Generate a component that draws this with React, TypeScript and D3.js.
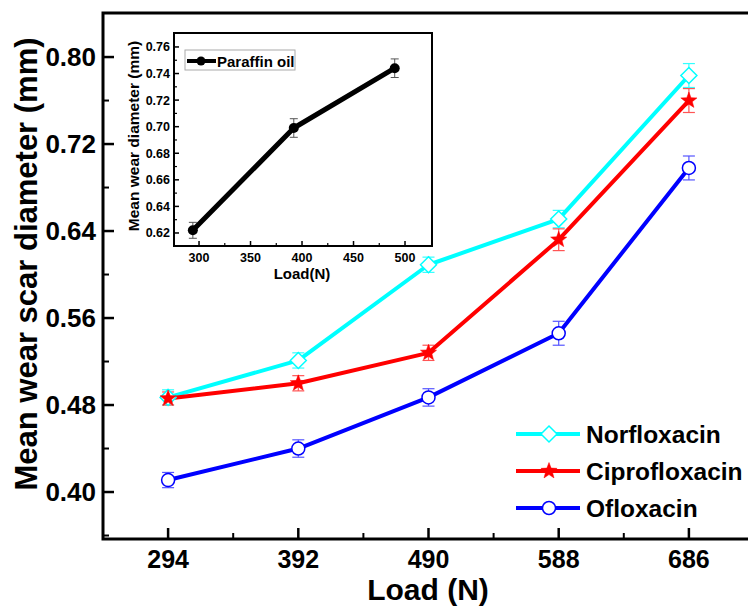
import React from "react";
import * as d3 from "d3";

const loads = [294, 392, 490, 588, 686];
const norfloxacin = [0.487, 0.521, 0.609, 0.651, 0.783];
const norfloxacinErr = [0.007, 0.007, 0.007, 0.008, 0.011];
const ciprofloxacin = [0.486, 0.5, 0.528, 0.632, 0.76];
const ciprofloxacinErr = [0.006, 0.007, 0.007, 0.01, 0.011];
const ofloxacin = [0.411, 0.44, 0.487, 0.546, 0.698];
const ofloxacinErr = [0.007, 0.008, 0.008, 0.011, 0.011];
const yTicks = [0.4, 0.48, 0.56, 0.64, 0.72, 0.8];

const insetLoads = [294, 392, 490];
const paraffin = [0.622, 0.699, 0.744];
const paraffinErr = [0.006, 0.007, 0.007];
const insetXTicks = [300, 350, 400, 450, 500];
const insetYTicks = [0.62, 0.64, 0.66, 0.68, 0.7, 0.72, 0.74, 0.76];

const FONT = "'Liberation Sans', Arial, Helvetica, sans-serif";

function starPath(cx: number, cy: number, R: number, r: number) {
  const pts: string[] = [];
  for (let i = 0; i < 10; i++) {
    const a = -Math.PI / 2 + (i * Math.PI) / 5;
    const rad = i % 2 === 0 ? R : r;
    pts.push(`${cx + rad * Math.cos(a)},${cy + rad * Math.sin(a)}`);
  }
  return "M" + pts.join("L") + "Z";
}

function Marker({ kind, x, y, color }: { kind: string; x: number; y: number; color: string }) {
  if (kind === "diamond") {
    const s = 8;
    return (
      <path
        d={`M${x},${y - s}L${x + s},${y}L${x},${y + s}L${x - s},${y}Z`}
        fill="white"
        stroke={color}
        strokeWidth={1.5}
      />
    );
  }
  if (kind === "star") {
    return <path d={starPath(x, y, 8.5, 3.6)} fill={color} stroke={color} strokeWidth={0.5} />;
  }
  return <circle cx={x} cy={y} r={6.5} fill="white" stroke={color} strokeWidth={1.5} />;
}

export default function App() {
  const x = d3.scaleLinear().domain([245, 735]).range([103, 754]);
  const y = d3.scaleLinear().domain([0.3568, 0.8405]).range([539, 13]);

  const series = [
    { name: "Norfloxacin", values: norfloxacin, err: norfloxacinErr, color: "#00FFFF", errColor: "#33FFFF", kind: "diamond" },
    { name: "Ciprofloxacin", values: ciprofloxacin, err: ciprofloxacinErr, color: "#FF0000", errColor: "#FF5555", kind: "star" },
    { name: "Ofloxacin", values: ofloxacin, err: ofloxacinErr, color: "#0000FF", errColor: "#5555FF", kind: "circle" },
  ];

  const line = d3
    .line<number>()
    .x((_, i) => x(loads[i]))
    .y((d) => y(d));

  const xMinor = loads.slice(0, -1).map((v, i) => (v + loads[i + 1]) / 2);
  const yMinor = [0.36, ...yTicks.map((v) => v + 0.04)].filter((v) => v < 0.84);

  // inset scales
  const ix = d3.scaleLinear().domain([275.7, 526.2]).range([174, 432]);
  const iy = d3.scaleLinear().domain([0.6102, 0.7705]).range([246, 33]);
  const iline = d3
    .line<number>()
    .x((_, i) => ix(insetLoads[i]))
    .y((d) => iy(d));
  const ixMinor = [325, 375, 425, 475];
  const iyMinor = [0.63, 0.65, 0.67, 0.69, 0.71, 0.73, 0.75];

  const legendYs = [434, 471, 508];

  return (
    <svg
      width={748}
      height={607}
      style={{ position: "absolute", left: 0, top: 0, background: "white" }}
      fontFamily={FONT}
    >
      <rect x={0} y={0} width={748} height={607} fill="white" />

      {/* main frame */}
      <rect x={103} y={13} width={660} height={526} fill="none" stroke="black" strokeWidth={3} />

      {/* x ticks */}
      {loads.map((v) => (
        <g key={"xt" + v}>
          <line x1={x(v)} x2={x(v)} y1={539} y2={528} stroke="black" strokeWidth={2.5} />
          <text x={x(v)} y={568} textAnchor="middle" fontSize={25} fontWeight="bold">
            {v}
          </text>
        </g>
      ))}
      {xMinor.map((v) => (
        <line key={"xm" + v} x1={x(v)} x2={x(v)} y1={539} y2={533} stroke="black" strokeWidth={2} />
      ))}

      {/* y ticks */}
      {yTicks.map((v) => (
        <g key={"yt" + v}>
          <line x1={103} x2={114} y1={y(v)} y2={y(v)} stroke="black" strokeWidth={2.5} />
          <text x={96} y={y(v) + 9} textAnchor="end" fontSize={26} fontWeight="bold">
            {v.toFixed(2)}
          </text>
        </g>
      ))}
      {yMinor.map((v) => (
        <line key={"ym" + v} x1={103} x2={109} y1={y(v)} y2={y(v)} stroke="black" strokeWidth={2} />
      ))}

      {/* axis titles */}
      <text x={428} y={600} textAnchor="middle" fontSize={30} fontWeight="bold">
        Load (N)
      </text>
      <text
        transform={`translate(37,264) rotate(-90)`}
        textAnchor="middle"
        fontSize={31}
        fontWeight="bold"
      >
        Mean wear scar diameter (mm)
      </text>

      {/* series */}
      {series.map((s) => (
        <g key={s.name}>
          {s.values.map((v, i) => {
            const cx = x(loads[i]);
            const top = y(v + s.err[i]);
            const bot = y(v - s.err[i]);
            return (
              <g key={i} stroke={s.errColor} strokeWidth={1.2}>
                <line x1={cx} x2={cx} y1={top} y2={bot} />
                <line x1={cx - 6} x2={cx + 6} y1={top} y2={top} />
                <line x1={cx - 6} x2={cx + 6} y1={bot} y2={bot} />
              </g>
            );
          })}
          <path d={line(s.values) || ""} fill="none" stroke={s.color} strokeWidth={4} strokeLinejoin="round" />
        </g>
      ))}
      {series.map((s) => (
        <g key={s.name + "m"}>
          {s.values.map((v, i) => (
            <Marker key={i} kind={s.kind} x={x(loads[i])} y={y(v)} color={s.color} />
          ))}
        </g>
      ))}

      {/* legend */}
      {series.map((s, i) => (
        <g key={s.name + "leg"}>
          <line x1={516} x2={580} y1={legendYs[i]} y2={legendYs[i]} stroke={s.color} strokeWidth={4} />
          <Marker kind={s.kind} x={549} y={legendYs[i]} color={s.color} />
          <text x={586} y={legendYs[i] + 9} fontSize={24.5} fontWeight="bold">
            {s.name}
          </text>
        </g>
      ))}

      {/* inset */}
      <rect x={174} y={33} width={258} height={213} fill="white" stroke="black" strokeWidth={2} />
      {insetXTicks.map((v) => (
        <g key={"ixt" + v}>
          <line x1={ix(v)} x2={ix(v)} y1={246} y2={241} stroke="black" strokeWidth={1.5} />
          <text x={ix(v)} y={262} textAnchor="middle" fontSize={12.5} fontWeight="bold">
            {v}
          </text>
        </g>
      ))}
      {ixMinor.map((v) => (
        <line key={"ixm" + v} x1={ix(v)} x2={ix(v)} y1={246} y2={243} stroke="black" strokeWidth={1.2} />
      ))}
      {insetYTicks.map((v) => (
        <g key={"iyt" + v}>
          <line x1={174} x2={179} y1={iy(v)} y2={iy(v)} stroke="black" strokeWidth={1.5} />
          <text x={170} y={iy(v) + 4.5} textAnchor="end" fontSize={12.5} fontWeight="bold">
            {v.toFixed(2)}
          </text>
        </g>
      ))}
      {iyMinor.map((v) => (
        <line key={"iym" + v} x1={174} x2={177} y1={iy(v)} y2={iy(v)} stroke="black" strokeWidth={1.2} />
      ))}
      <text x={302} y={279} textAnchor="middle" fontSize={15} fontWeight="bold">
        Load(N)
      </text>
      <text transform={`translate(139,136) rotate(-90)`} textAnchor="middle" fontSize={15.5} fontWeight="bold">
        Mean wear diameter (mm)
      </text>
      {paraffin.map((v, i) => {
        const cx = ix(insetLoads[i]);
        const top = iy(v + paraffinErr[i]);
        const bot = iy(v - paraffinErr[i]);
        return (
          <g key={"pe" + i} stroke="#555" strokeWidth={1}>
            <line x1={cx} x2={cx} y1={top} y2={bot} />
            <line x1={cx - 4} x2={cx + 4} y1={top} y2={top} />
            <line x1={cx - 4} x2={cx + 4} y1={bot} y2={bot} />
          </g>
        );
      })}
      <path d={iline(paraffin) || ""} fill="none" stroke="black" strokeWidth={5} strokeLinejoin="round" />
      {paraffin.map((v, i) => (
        <circle key={"pm" + i} cx={ix(insetLoads[i])} cy={iy(v)} r={5} fill="black" />
      ))}
      {/* inset legend */}
      <rect x={185} y={50} width={110} height={20} fill="white" stroke="#aaa" strokeWidth={1} />
      <line x1={187} x2={216} y1={61} y2={61} stroke="black" strokeWidth={4} />
      <circle cx={201} cy={61} r={4.5} fill="black" />
      <text x={217} y={66.5} fontSize={15} fontWeight="bold">
        Paraffin oil
      </text>
    </svg>
  );
}
